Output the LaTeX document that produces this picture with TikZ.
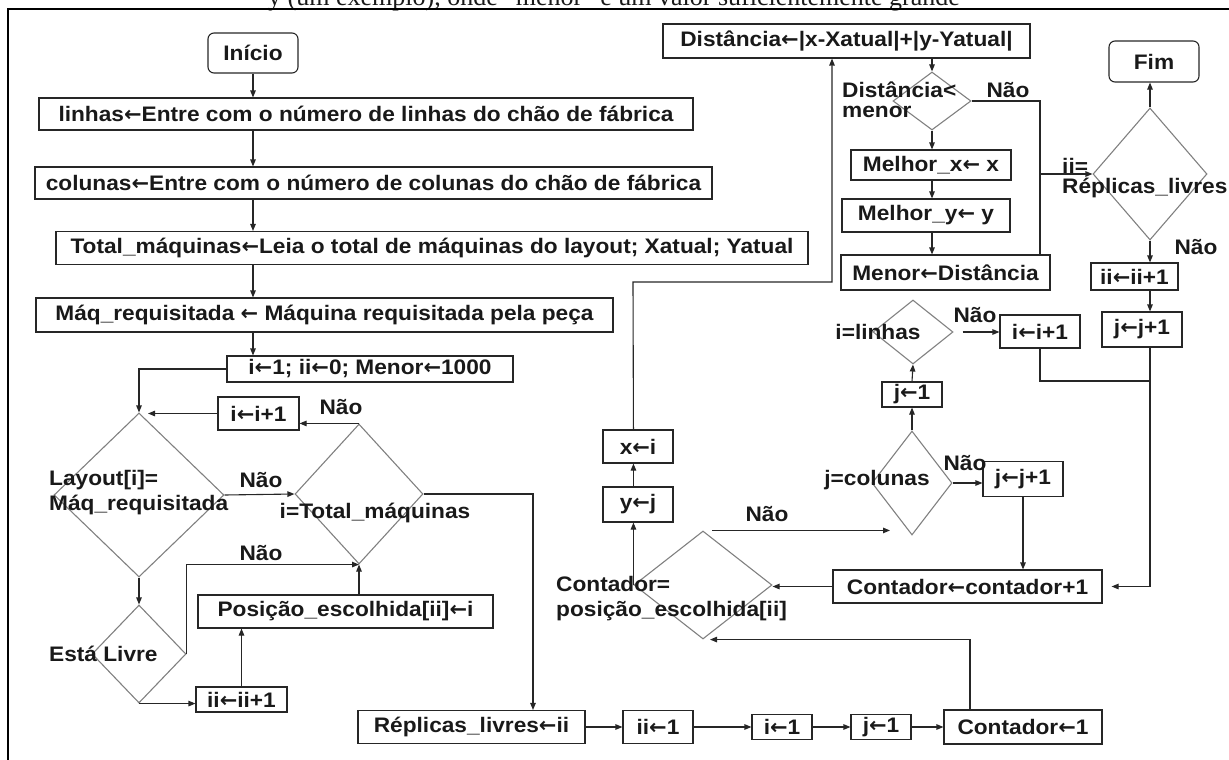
\documentclass[tikz,border=0pt]{standalone}
\usepackage{fontspec}
\usetikzlibrary{arrows.meta,shapes.geometric}
\newfontfamily\flowfont{Liberation Sans}[FakeStretch=1.08]
\newfontfamily\arrowfont{DejaVu Sans}
\newfontfamily\docfont{Liberation Serif}
% assignment arrow used inside the flowchart texts
\newcommand\getsarrow{{\arrowfont\bfseries ←}}
\definecolor{boxcol}{gray}{0.15}
\definecolor{diacol}{gray}{0.5}
\definecolor{linecol}{gray}{0.15}
\begin{document}
\begin{tikzpicture}[x=1pt,y=-1pt,
  every node/.style={font=\flowfont\bfseries\fontsize{21}{25}\selectfont, text=black!90},
  box/.style={draw=boxcol, line width=1.1pt, inner sep=0pt, rectangle},
  term/.style={box, rounded corners=6pt},
  dec/.style={shape=diamond, draw=diacol, line width=1.1pt, inner sep=0pt},
  lbl/.style={inner sep=0pt, align=left, anchor=west},
  tight/.style={font=\flowfont\bfseries\fontsize{21}{20}\selectfont},
  arr/.style={draw=linecol, line width=1.1pt, -{Triangle[length=7pt,width=5.5pt]}},
  ln/.style={draw=linecol, line width=1.1pt}]
\useasboundingbox (0,0) rectangle (1229,760);

% caption line of the surrounding page, cut by the top edge
\begin{scope}
  \clip (0,0) rectangle (1229,760);
  \node[font=\docfont\fontsize{26}{30}\selectfont, anchor=base, inner sep=0pt] (capline) at (614,5.5)
    {y (um exemplo), onde “menor” é um valor suficientemente grande};
\end{scope}
% page frame
\draw[line width=2.4pt] (8,760) -- (8,9) -- (1229,9);

% ---- left column: reading the data ----
\node[term, minimum width=90pt, minimum height=40pt] (start) at (253,53) {Início};
\node[box, minimum width=654pt, minimum height=32pt] (linhas) at (366,114) {linhas\getsarrow Entre com o número de linhas do chão de fábrica};
\node[box, minimum width=677pt, minimum height=32pt] (colunas) at (373.5,183) {colunas\getsarrow Entre com o número de colunas do chão de fábrica};
\node[box, minimum width=752pt, minimum height=33pt] (total) at (432,248) {Total\_máquinas\getsarrow Leia o total de máquinas do layout; Xatual; Yatual};
\node[box, minimum width=577pt, minimum height=34pt] (maq) at (324.5,315) {Máq\_requisitada {\arrowfont ←} Máquina requisitada pela peça};
\node[box, minimum width=286pt, minimum height=26pt] (init) at (370,369) {i\getsarrow 1; ii\getsarrow 0; Menor\getsarrow 1000};

% ---- search over the layout ----
\node[box, minimum width=81pt, minimum height=33pt] (inci) at (258.5,413.5) {i\getsarrow i+1};
\node[dec, minimum width=170pt, minimum height=164pt] (layout) at (139,495) {};
\node[lbl] (layouttxt) at (49,493) {Layout[i]=\\Máq\_requisitada};
\node[dec, minimum width=128pt, minimum height=140pt] (tot) at (359,494) {};
\node[inner sep=0pt] (tottxt) at (375,513) {i=Total\_máquinas};
\node[dec, minimum width=94pt, minimum height=98pt] (livre) at (139,654) {};
\node[lbl] (livretxt) at (49,654) {Está Livre};
\node[box, minimum width=91pt, minimum height=25pt] (incii) at (241.5,699.5) {ii\getsarrow ii+1};
\node[box, minimum width=295pt, minimum height=33pt] (pos) at (345.5,611.5) {Posição\_escolhida[ii]\getsarrow i};

% ---- bottom row ----
\node[box, minimum width=227pt, minimum height=33pt] (rep) at (471.5,727) {Réplicas\_livres\getsarrow ii};
\node[box, minimum width=70pt, minimum height=33pt] (ii1) at (658,727) {ii\getsarrow 1};
\node[box, minimum width=60pt, minimum height=25pt] (i1) at (782,727) {i\getsarrow 1};
\node[box, minimum width=60pt, minimum height=25pt] (j1b) at (881,727) {j\getsarrow 1};
\node[box, minimum width=158pt, minimum height=34pt] (cont1) at (1023,727) {Contador\getsarrow 1};

% ---- position test and distance ----
\node[dec, minimum width=138pt, minimum height=108pt] (contd) at (703,585) {};
\node[lbl] (contdtxt) at (556,599) {Contador=\\posição\_escolhida[ii]};
\node[box, minimum width=70pt, minimum height=35pt] (yj) at (638,504.5) {y\getsarrow j};
\node[box, minimum width=70pt, minimum height=33pt] (xi) at (638,446.5) {x\getsarrow i};
\node[box, minimum width=367pt, minimum height=34pt] (dist) at (846.5,41) {Distância\getsarrow|x-Xatual|+|y-Yatual|};
\node[dec, minimum width=78pt, minimum height=58pt] (dmen) at (932,101) {};
\node[lbl, tight] (dmentxt) at (842,100) {Distância<\\menor};
\node[box, minimum width=160pt, minimum height=30pt] (mx) at (931,165) {Melhor\_x\getsarrow\ x};
\node[box, minimum width=168pt, minimum height=33pt] (my) at (926,215.5) {Melhor\_y\getsarrow\ y};
\node[box, minimum width=209pt, minimum height=35pt] (menor) at (945.5,272.5) {Menor\getsarrow Distância};

% ---- right column ----
\node[term, minimum width=90pt, minimum height=41pt] (fim) at (1154,61.5) {Fim};
\node[dec, minimum width=114pt, minimum height=132pt] (drep) at (1150,174) {};
\node[lbl, tight] (dreptxt) at (1062,178) {ii=\\Réplicas\_livres};
\node[box, minimum width=87pt, minimum height=27pt] (incii2) at (1134.5,276.5) {ii\getsarrow ii+1};
\node[box, minimum width=80pt, minimum height=35pt] (jinc2) at (1142,329.5) {j\getsarrow j+1};

% ---- row / column counters ----
\node[dec, minimum width=80pt, minimum height=64pt] (dlin) at (913,332) {};
\node[inner sep=0pt] (dlintxt) at (878,332) {i=linhas};
\node[box, minimum width=80pt, minimum height=33pt] (inci2) at (1040,331.5) {i\getsarrow i+1};
\node[box, minimum width=60pt, minimum height=25pt] (j1m) at (912,394.5) {j\getsarrow 1};
\node[dec, minimum width=80pt, minimum height=104pt] (dcol) at (912,483) {};
\node[inner sep=0pt] (dcoltxt) at (877,480) {j=colunas};
\node[box, minimum width=80pt, minimum height=35pt] (jinc1) at (1023,479) {j\getsarrow j+1};
\node[box, minimum width=269pt, minimum height=33pt] (continc) at (967.5,586.5) {Contador\getsarrow contador+1};

% ---- branch labels ----
\node[inner sep=0pt] (nao1) at (341,407) {Não};
\node[inner sep=0pt] (nao2) at (261,480) {Não};
\node[inner sep=0pt] (nao3) at (261,553) {Não};
\node[inner sep=0pt] (nao4) at (767,514) {Não};
\node[inner sep=0pt] (nao5) at (1008,90) {Não};
\node[inner sep=0pt] (nao6) at (1196,247) {Não};
\node[inner sep=0pt] (nao7) at (975,315) {Não};
\node[inner sep=0pt] (nao8) at (965,463) {Não};

% ---- helper points for bends ----
\coordinate (lin) at ([xshift=9pt]layout.north);
\coordinate (repin) at ([xshift=61.5pt]rep.north);
\coordinate (cntup) at ([xshift=-53pt]cont1.north);
\coordinate (loopa) at (633,282);
\coordinate (distin) at ([xshift=-14.5pt]dist.south);
\coordinate (menup) at ([xshift=94.5pt]menor.north);
\coordinate (joinpt) at (1150,381);

% ---- connectors: left column ----
\draw[arr] (start.south) -- (start.south |- linhas.north);
\draw[arr] (linhas.south -| start.south) -- (colunas.north -| start.south);
\draw[arr] (colunas.south -| start.south) -- (total.north -| start.south);
\draw[arr] (total.south -| start.south) -- (maq.north -| start.south);
\draw[arr] (maq.south -| start.south) -- (init.north -| start.south);
\draw[arr] (init.west) -| (layout.north);
\draw[arr] (inci.west) -- (inci.west -| lin);
\draw[arr] (tot.north) -- (tot.north -| inci.east);
\draw[arr] (layout.east) -- (tot.west);
\draw[arr] (layout.south) -- (livre.north);
\draw[arr] (livre.east) |- (tot.south);
\draw[arr] (livre.south) -- (livre.south -| incii.west);
\draw[arr] (incii.north) -- (incii.north |- pos.south);
\draw[arr] (tot.south |- pos.north) -- (tot.south);
\draw[arr] (tot.east) -| (repin);

% ---- connectors: bottom row ----
\draw[arr] (rep.east) -- (ii1.west);
\draw[arr] (ii1.east) -- (i1.west);
\draw[arr] (i1.east) -- (j1b.west);
\draw[arr] (j1b.east) -- (cont1.west);
\draw[arr, shorten >=7pt] (cntup) |- (contd.south);

% ---- connectors: position test and distance ----
\draw[arr, shorten <=9pt, shorten >=22pt] (contd.north) -- (contd.north -| dcol.south);
\draw[arr] (contd.west) -- (contd.west |- yj.south);
\draw[arr] (yj.north -| contd.west) -- (xi.south -| contd.west);
\draw[arr] (xi.north -| contd.west) -- (loopa) -| (distin);
\draw[arr] (dmen.north |- dist.south) -- (dmen.north);
\draw[arr] (dmen.south) -- (dmen.south |- mx.north);
\draw[arr] (mx.south -| dmen.south) -- (my.north -| dmen.south);
\draw[arr] (my.south -| dmen.south) -- (menor.north -| dmen.south);
\draw[ln] (dmen.east) -| (menup);
\draw[arr] (menup |- drep.west) -- (drep.west);

% ---- connectors: right column ----
\draw[arr] (drep.north) -- (drep.north |- fim.south);
\draw[arr] (drep.south) -- (drep.south |- incii2.north);
\draw[arr] (drep.south |- incii2.south) -- (drep.south |- jinc2.north);
\draw[arr, shorten >=9pt] (drep.south |- jinc2.south) |- (continc.east);
\draw[ln] (inci2.south) |- (joinpt);
\draw[arr, shorten <=9pt] (dlin.east) -- (dlin.east -| inci2.west);
\draw[arr] (j1m.north) -- (dlin.south);
\draw[arr] (dcol.north) -- (j1m.south);
\draw[arr] (dcol.east) -- (dcol.east -| jinc1.west);
\draw[arr] (jinc1.south) -- (jinc1.south |- continc.north);
\draw[arr] (continc.west) -- (continc.west -| contd.east);
\end{tikzpicture}
\end{document}
